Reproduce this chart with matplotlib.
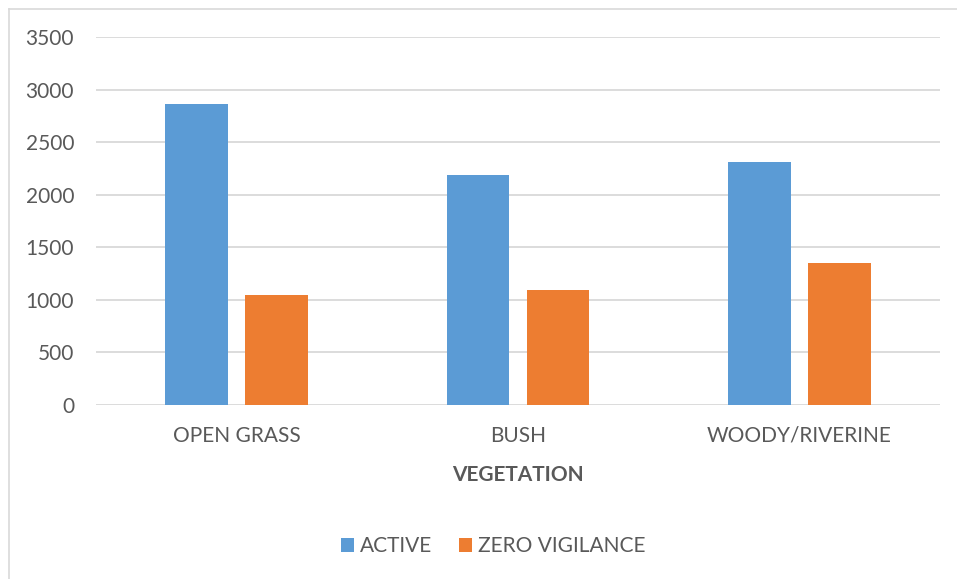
import matplotlib
matplotlib.use("Agg")
import matplotlib.pyplot as plt
from matplotlib.lines import Line2D
import numpy as np

categories = ["OPEN GRASS", "BUSH", "WOODY/RIVERINE"]
active = [2864, 2185, 2312]
zero_vigilance = [1046, 1099, 1350]
series_names = ["ACTIVE", "ZERO VIGILANCE"]
y_ticks = [0, 500, 1000, 1500, 2000, 2500, 3000, 3500]
x_title = "VEGETATION"

plt.rcParams['font.family'] = ['Lato', 'DejaVu Sans']
TXT = '#595959'
GRID = '#d9d9d9'
BLUE = '#5b9bd5'
ORANGE = '#ed7d31'
FS = 15

W, H = 957, 579
fig = plt.figure(figsize=(W / 100, H / 100), dpi=100)
ax = fig.add_axes([96 / W, 1 - 405 / H, (940 - 96) / W, (405 - 37.3) / H])

x = np.arange(len(categories))
bw = 0.2228
off = 0.1424
ax.bar(x - off, active, width=bw, color=BLUE, label=series_names[0], zorder=3)
ax.bar(x + off, zero_vigilance, width=bw, color=ORANGE, label=series_names[1], zorder=3)

ax.set_xlim(-0.5, len(categories) - 0.5)
ax.set_ylim(0, 3500)
ax.set_yticks(y_ticks)
ax.set_yticklabels([str(v) for v in y_ticks])
ax.set_xticks(x)
ax.set_xticklabels(categories)
ax.yaxis.grid(True, color=GRID, linewidth=1.3, zorder=0)
ax.set_axisbelow(True)
for s in ax.spines.values():
    s.set_visible(False)
ax.tick_params(axis='y', length=0, pad=15.8, labelsize=FS, labelcolor=TXT)
ax.tick_params(axis='x', length=0, pad=15, labelsize=FS, labelcolor=TXT)

ax.set_xlabel(x_title, fontsize=FS, fontweight='bold', color=TXT, va='center')
ax.xaxis.set_label_coords(0.5, (405 - 475) / (405 - 37.3))

leg = fig.legend(loc='center', bbox_to_anchor=(493 / W, 1 - 546 / H), ncol=2,
                 frameon=False, fontsize=FS, labelcolor=TXT,
                 handlelength=0.65, handleheight=0.65, handletextpad=0.25,
                 columnspacing=1.3, borderpad=0)

fig.add_artist(Line2D([8.5 / W, 1], [1 - 8.5 / H, 1 - 8.5 / H], transform=fig.transFigure,
                      color=GRID, linewidth=1.2))
fig.add_artist(Line2D([8.5 / W, 8.5 / W], [0, 1 - 8.5 / H], transform=fig.transFigure,
                      color=GRID, linewidth=1.2))

fig.savefig("out.png", dpi=100, facecolor='white')
